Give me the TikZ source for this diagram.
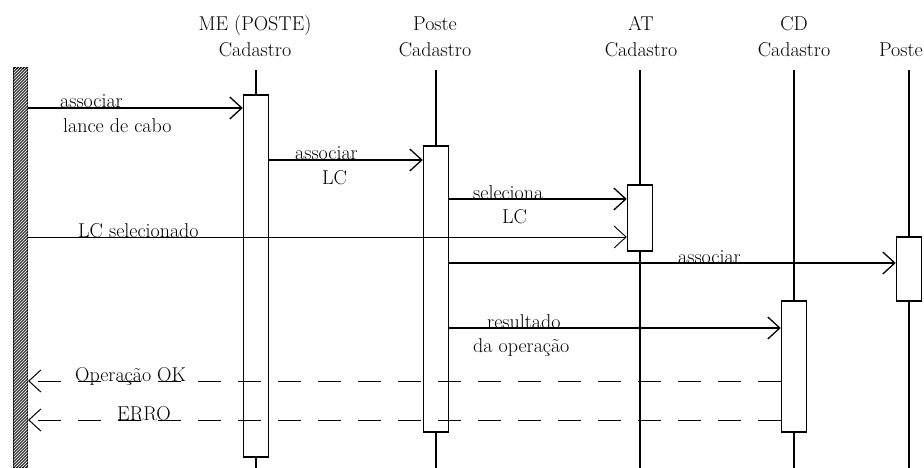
\documentclass[tikz,border=0pt]{standalone}
\usepackage{tikz}
\usetikzlibrary{arrows.meta,patterns}

\begin{document}
\begin{tikzpicture}[x=1pt,y=-1pt,
  hd/.style={anchor=south,align=center,inner sep=1pt,font=\fontsize{20}{26}\selectfont},
  lbl/.style={anchor=base west,inner sep=0pt,font=\fontsize{20}{25}\selectfont},
  act/.style={draw,line width=1.5pt,minimum width=25pt,inner sep=0pt},
  life/.style={line width=1.6pt},
  msg/.style={line width=1.3pt,-{Straight Barb[length=12pt,width=22pt]}},
  ret/.style={line width=1pt,dash pattern=on 23pt off 17pt,-{Straight Barb[length=12pt,width=22pt]}}]
\useasboundingbox (0,0) rectangle (924,468);
\coordinate (top) at (0,70);
\coordinate (bot) at (0,468);
% actor
\node[draw,line width=1.2pt,fill=black!75,postaction={pattern=north east lines,pattern color=white},minimum width=14pt,minimum height=400pt,inner sep=0pt] (actor) at (20.5,268) {};
% objects
\node[hd] (hd_me) at (255,58) {ME (POSTE)\\Cadastro};
\node[hd] (hd_ps) at (435,58) {Poste\\Cadastro};
\node[hd] (hd_at) at (641,58) {AT\\Cadastro};
\node[hd] (hd_cd) at (794,58) {CD\\Cadastro};
\node[hd,anchor=south east] (hd_po) at (924,58) {Poste};
% activations
\node[act,minimum height=362pt] (act_me) at (256,276) {};
\node[act,minimum height=286pt] (act_ps) at (436,289) {};
\node[act,minimum height=66pt] (act_at) at (640,218) {};
\node[act,minimum height=131pt] (act_cd) at (794,366.5) {};
\node[act,minimum height=64pt] (act_po) at (909,269) {};
% lifelines
\draw[life] (act_me.north |- top) -- (act_me.north);
\draw[life] (act_me.south) -- (act_me.south |- bot);
\draw[life] (act_ps.north |- top) -- (act_ps.north);
\draw[life] (act_ps.south) -- (act_ps.south |- bot);
\draw[life] (act_at.north |- top) -- (act_at.north);
\draw[life] (act_at.south) -- (act_at.south |- bot);
\draw[life] (act_cd.north |- top) -- (act_cd.north);
\draw[life] (act_cd.south) -- (act_cd.south |- bot);
\draw[life] (act_po.north |- top) -- (act_po.north);
\draw[life] (act_po.south) -- (act_po.south |- bot);
% messages
\coordinate (r1) at (0,108);
\coordinate (r2) at (0,160);
\coordinate (r3) at (0,199);
\coordinate (r4) at (0,237);
\coordinate (r5) at (0,263);
\coordinate (r6) at (0,328);
\coordinate (r7) at (0,381);
\coordinate (r8) at (0,420);
\draw[msg] (actor.east |- r1) -- (act_me.west |- r1);
\draw[msg] (act_me.east |- r2) -- (act_ps.west |- r2);
\draw[msg] (act_ps.east |- r3) -- (act_at.west |- r3);
\draw[msg,line width=0.9pt] (actor.east |- r4) -- (act_at.west |- r4);
\draw[msg] (act_ps.east |- r5) -- (act_po.west |- r5);
\draw[msg] (act_ps.east |- r6) -- (act_cd.west |- r6);
\draw[ret] (act_cd.west |- r7) -- (actor.east |- r7);
\draw[ret] (act_cd.west |- r8) -- (actor.east |- r8);
% labels
\node[lbl] (l1a) at (60,108) {associar};
\node[lbl] (l1b) at (63,133) {lance de cabo};
\node[lbl] (l2a) at (295,160) {associar};
\node[lbl] (l2b) at (322,185) {LC};
\node[lbl] (l3a) at (473,199) {seleciona};
\node[lbl] (l3b) at (502,223) {LC};
\node[lbl] (l4) at (78,237) {LC selecionado};
\node[lbl] (l5) at (678,263) {associar};
\node[lbl] (l6a) at (487,328) {resultado};
\node[lbl] (l6b) at (473,352) {da operação};
\node[lbl] (l7) at (75,381) {Operação OK};
\node[lbl] (l8) at (117,420) {ERRO};
\end{tikzpicture}
\end{document}
